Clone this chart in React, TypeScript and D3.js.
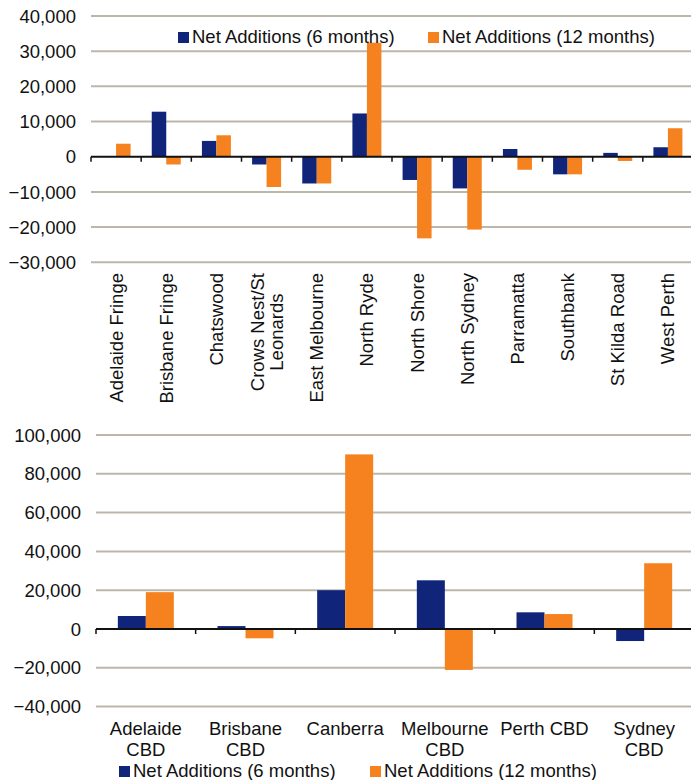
import * as React from 'react'
import { useEffect, useRef, FunctionComponent } from 'react'
import * as d3 from 'd3'

// fringe markets (top chart)
const fringeNames = [
  'Adelaide Fringe', 'Brisbane Fringe', 'Chatswood', 'Crows Nest/St\nLeonards', 'East Melbourne', 'North Ryde',
  'North Shore', 'North Sydney', 'Parramatta', 'Southbank', 'St Kilda Road', 'West Perth',
]
const fringe6m = [0, 12800, 4500, -2200, -7600, 12300, -6600, -9000, 2200, -5000, 1100, 2700]
const fringe12m = [3700, -2200, 6100, -8600, -7600, 32400, -23200, -20700, -3700, -5000, -1200, 8100]
const fringeTicks = [40000, 30000, 20000, 10000, 0, -10000, -20000, -30000]

// CBD markets (bottom chart)
const cbdNames = ['Adelaide\nCBD', 'Brisbane\nCBD', 'Canberra', 'Melbourne\nCBD', 'Perth CBD', 'Sydney\nCBD']
const cbd6m = [6700, 1500, 20000, 25100, 8600, -6200]
const cbd12m = [19000, -4800, 90000, -21100, 7700, 33900]
const cbdTicks = [100000, 80000, 60000, 40000, 20000, 0, -20000, -40000]

const seriesNames = ['Net Additions (6 months)', 'Net Additions (12 months)']
const colors = ['#10257a', '#f5821f']
const gridColor = '#bcb7a8'
const font = '"Liberation Sans", Arial, sans-serif'
const fs = 18.5

const W = 691
const H = 780

const App: FunctionComponent = () => {
  const ref = useRef<SVGSVGElement | null>(null)

  useEffect(() => {
    const svg = d3.select(ref.current)
    svg.selectAll('*').remove()
    const fmt = d3.format(',')

    const drawChart = (opts: {
      names: string[], a: number[], b: number[], ticks: number[],
      x0: number, x1: number, yTop: number, yBot: number, lo: number, hi: number,
      labelX: number, pad: number,
    }) => {
      const g = svg.append('g')
      const x = d3.scaleBand<number>().domain(d3.range(opts.names.length)).range([opts.x0, opts.x1])
      const xs = d3.scaleBand<number>().domain([0, 1]).range([0, x.bandwidth()]).paddingOuter(opts.pad)
      const y = d3.scaleLinear().domain([opts.lo, opts.hi]).range([opts.yBot, opts.yTop])

      g.selectAll('line.grid').data(opts.ticks.filter(t => t !== 0)).enter().append('line')
        .attr('x1', opts.x0).attr('x2', W)
        .attr('y1', d => y(d)).attr('y2', d => y(d))
        .attr('stroke', gridColor).attr('stroke-width', 2)

      g.selectAll('text.tick').data(opts.ticks).enter().append('text')
        .attr('x', opts.labelX).attr('y', d => y(d)).attr('dy', '0.36em')
        .attr('text-anchor', 'end').attr('font-family', font).attr('font-size', fs).attr('fill', '#111')
        .text(d => fmt(d))

      const rows = opts.names.map((n, i) => ({ i, vals: [opts.a[i], opts.b[i]] }))
      rows.forEach(r => {
        r.vals.forEach((v, s) => {
          g.append('rect')
            .attr('x', (x(r.i) as number) + (xs(s) as number))
            .attr('width', xs.bandwidth())
            .attr('y', y(Math.max(0, v)))
            .attr('height', Math.abs(y(v) - y(0)))
            .attr('fill', colors[s])
        })
      })

      // zero axis + ticks
      g.append('line').attr('x1', opts.x0).attr('x2', W).attr('y1', y(0)).attr('y2', y(0))
        .attr('stroke', '#111').attr('stroke-width', 2)
      g.selectAll('line.xt').data(d3.range(opts.names.length + 1)).enter().append('line')
        .attr('x1', d => opts.x0 + d * x.step()).attr('x2', d => opts.x0 + d * x.step())
        .attr('y1', y(0)).attr('y2', y(0) + 5)
        .attr('stroke', '#111').attr('stroke-width', 1.5)
      return x
    }

    // top chart
    const xTop = drawChart({
      names: fringeNames, a: fringe6m, b: fringe12m, ticks: fringeTicks,
      x0: 91, x1: 693, yTop: 16, yBot: 262.3, lo: -30000, hi: 40000, labelX: 76, pad: 0.73,
    })
    fringeNames.forEach((name, i) => {
      const lines = name.split('\n')
      const cx = (xTop(i) as number) + xTop.bandwidth() / 2
      const t = svg.append('text').attr('font-family', font).attr('font-size', fs).attr('fill', '#111')
        .attr('text-anchor', 'middle')
      lines.forEach((ln, k) => {
        t.append('tspan').attr('x', 0).attr('y', (k - (lines.length - 1) / 2) * 19).attr('dy', '0.35em').text(ln)
      })
      const lens = (t.selectAll('tspan').nodes() as SVGTSpanElement[]).map(n => n.getComputedTextLength())
      const maxLen = d3.max(lens) || 0
      t.attr('transform', `translate(${cx},${273 + maxLen / 2}) rotate(-90)`)
    })

    // bottom chart
    const xBot = drawChart({
      names: cbdNames, a: cbd6m, b: cbd12m, ticks: cbdTicks,
      x0: 96, x1: 694, yTop: 435, yBot: 706.6, lo: -40000, hi: 100000, labelX: 81, pad: 0.78,
    })
    cbdNames.forEach((name, i) => {
      const cx = (xBot(i) as number) + xBot.bandwidth() / 2
      name.split('\n').forEach((ln, k) => {
        svg.append('text').attr('x', cx).attr('y', 735 + k * 21)
          .attr('text-anchor', 'middle').attr('font-family', font).attr('font-size', fs).attr('fill', '#111')
          .text(ln)
      })
    })

    // legends
    const legend = (xs: number[], y: number) => {
      seriesNames.forEach((n, s) => {
        svg.append('rect').attr('x', xs[s]).attr('y', y - 11).attr('width', 11).attr('height', 11).attr('fill', colors[s])
        svg.append('text').attr('x', xs[s] + 14).attr('y', y)
          .attr('font-family', font).attr('font-size', fs).attr('fill', '#111').text(n)
      })
    }
    legend([178, 428], 43)
    legend([119, 370], 777)
  }, [])

  return (
    <svg ref={ref} width={W} height={H} style={{ position: 'absolute', left: 0, top: 0, background: '#fff' }} />
  )
}

export default App
